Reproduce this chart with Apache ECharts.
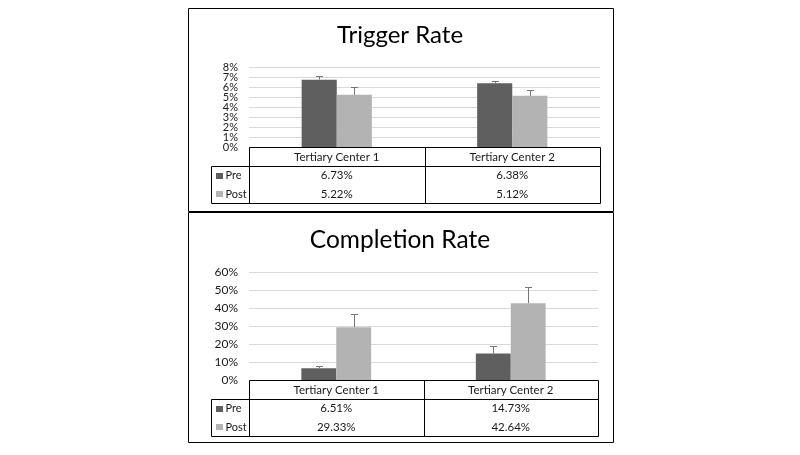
<!DOCTYPE html>
<html>
<head>
<meta charset="utf-8">
<script src="https://cdn.jsdelivr.net/npm/echarts@6/dist/echarts.min.js"></script>
<style>
html,body{margin:0;padding:0;background:#fff;}
#c{width:800px;height:455px;}
</style>
</head>
<body>
<div id="c"></div>
<script>
// ---- data ----
const categories = ['Tertiary Center 1', 'Tertiary Center 2'];
const seriesNames = ['Pre', 'Post'];
const titles = ['Trigger Rate', 'Completion Rate'];

const triggerPre = [6.73, 6.38];
const triggerPost = [5.22, 5.12];
const triggerPreErr = [0.41, 0.26];
const triggerPostErr = [0.82, 0.62];

const completionPre = [6.51, 14.73];
const completionPost = [29.33, 42.64];
const completionPreErr = [1.4, 4.3];
const completionPostErr = [7.4, 9.1];

const triggerAxis = { min: 0, max: 8, interval: 1 };
const completionAxis = { min: 0, max: 60, interval: 10 };

// ---- styles ----
const FONT = 'Lato, "Open Sans", sans-serif';
const PRE_COLOR = '#5f5f5f';
const POST_COLOR = '#b3b3b3';
const ERR_COLOR = '#767676';
const TEXT_COLOR = '#1a1a1a';
const BAR_FRAC = 0.2;        // bar width as fraction of category band
const HEADER_H = 19;
const ROW_H = 18.5;
const LEG_W = 38.5;

const chart = echarts.init(document.getElementById('c'), null, { renderer: 'canvas' });

function px(v) { return Math.round(v) + 0.5; }

function errorSeries(gridIdx, values, errs, sign) {
  return {
    type: 'custom',
    xAxisIndex: gridIdx, yAxisIndex: gridIdx,
    z: 5, clip: false, silent: true,
    data: categories.map((c, i) => [i, values[i], errs[i]]),
    encode: { x: 0, y: 1 },
    renderItem: function (params, api) {
      const i = api.value(0), v = api.value(1), e = api.value(2);
      const bw = api.size([1, 0])[0];
      const off = sign * bw * BAR_FRAC / 2;
      const p0 = api.coord([i, v]);
      const p1 = api.coord([i, v + e]);
      const x = px(p0[0] + off);
      const yTop = px(p1[1]);
      return {
        type: 'group',
        children: [
          { type: 'line', shape: { x1: x, y1: p0[1], x2: x, y2: yTop }, style: { stroke: ERR_COLOR, lineWidth: 1 } },
          { type: 'line', shape: { x1: x - 3.5, y1: yTop, x2: x + 3.5, y2: yTop }, style: { stroke: ERR_COLOR, lineWidth: 1 } }
        ]
      };
    }
  };
}

function tableSeries(gridIdx, pre, post, fontSize) {
  return {
    type: 'custom',
    xAxisIndex: gridIdx, yAxisIndex: gridIdx,
    z: 10, clip: false, silent: true,
    data: categories.map((c, i) => [i, 0]),
    encode: { x: 0, y: 1 },
    renderItem: function (params, api) {
      const i = params.dataIndex;
      const bw = api.size([1, 0])[0];
      const p = api.coord([api.value(0), 0]);
      const cx = p[0];
      const x0 = px(cx - bw / 2), x1 = px(cx + bw / 2);
      const y0 = px(p[1]);
      const yH = px(p[1] + HEADER_H);
      const yB = px(p[1] + HEADER_H + 2 * ROW_H);
      const stroke = { stroke: '#000', lineWidth: 1, fill: null };
      const tstyle = (txt, x, y, align, fs) => ({
        type: 'text',
        style: { text: txt, x: x, y: y, align: align || 'center', verticalAlign: 'middle',
                 fill: TEXT_COLOR, font: (fs || fontSize) + 'px ' + FONT }
      });
      const children = [
        { type: 'rect', shape: { x: x0, y: y0, width: x1 - x0, height: yH - y0 }, style: stroke },
        { type: 'rect', shape: { x: x0, y: yH, width: x1 - x0, height: yB - yH }, style: stroke },
        tstyle(categories[i], cx, (y0 + yH) / 2),
        tstyle(pre[i].toFixed(2) + '%', cx, yH + ROW_H / 2),
        tstyle(post[i].toFixed(2) + '%', cx, yH + ROW_H * 1.5)
      ];
      if (i === 0) {
        const lx = px(cx - bw / 2 - LEG_W);
        children.push({ type: 'rect', shape: { x: lx, y: yH, width: x0 - lx, height: yB - yH }, style: stroke });
        const names = seriesNames;
        const cols = [PRE_COLOR, POST_COLOR];
        for (let k = 0; k < 2; k++) {
          const ym = yH + ROW_H * (k + 0.5);
          children.push({ type: 'rect', shape: { x: lx + 4.5, y: Math.round(ym - 3), width: 7, height: 6 }, style: { fill: cols[k] } });
          children.push(tstyle(names[k], lx + 14, ym, 'left', 11));
        }
      }
      return { type: 'group', children: children };
    }
  };
}

function yAxis(gridIdx, ax, fontSize, opts) {
  opts = opts || {};
  return {
    type: 'value', gridIndex: gridIdx, position: 'left', offset: 0,
    min: ax.min, max: ax.max, interval: opts.interval || ax.interval,
    axisLine: { show: false }, axisTick: { show: false },
    axisLabel: { formatter: '{value}%', color: TEXT_COLOR, fontSize: fontSize, fontFamily: FONT, margin: 11,
                 showMinLabel: opts.showEnds, showMaxLabel: opts.showEnds },
    splitLine: { show: opts.split !== false, lineStyle: { color: '#d9d9d9', width: 1 } }
  };
}

function xAxis(gridIdx) {
  return {
    type: 'category', gridIndex: gridIdx, data: categories,
    axisLine: { show: false }, axisTick: { show: false }, axisLabel: { show: false },
    splitLine: { show: false }
  };
}

function barSeries(gridIdx, name, values, color) {
  return {
    type: 'bar', name: name, xAxisIndex: gridIdx, yAxisIndex: gridIdx,
    data: values, barWidth: (BAR_FRAC * 100) + '%', barGap: '0%',
    itemStyle: { color: color }, silent: true, z: 2
  };
}

const option = {
  animation: false,
  backgroundColor: '#fff',
  title: [
    { text: titles[0], left: 'center', top: 18, textStyle: { fontFamily: FONT, fontSize: 24, fontWeight: 'normal', color: '#000' } },
    { text: titles[1], left: 'center', top: 223, textStyle: { fontFamily: FONT, fontSize: 24.5, fontWeight: 'normal', color: '#000' } }
  ],
  grid: [
    { left: 249, top: 67, width: 351, height: 80 },
    { left: 249, top: 272, width: 349, height: 108 }
  ],
  xAxis: [xAxis(0), xAxis(1)],
  yAxis: [
    // top panel: inner labels 1%..7% (end labels drawn by axis index 2 so they are not auto-hidden)
    yAxis(0, triggerAxis, 11, { showEnds: false }),
    yAxis(1, completionAxis, 12, { showEnds: true }),
    yAxis(0, triggerAxis, 11, { showEnds: true, interval: triggerAxis.max - triggerAxis.min, split: false })
  ],
  graphic: [
    { type: 'rect', shape: { x: 188.5, y: 8.5, width: 425, height: 203 }, style: { fill: null, stroke: '#000', lineWidth: 1 }, silent: true, z: 100 },
    { type: 'rect', shape: { x: 188.5, y: 212.5, width: 425, height: 230 }, style: { fill: null, stroke: '#000', lineWidth: 1 }, silent: true, z: 100 }
  ],
  series: [
    barSeries(0, seriesNames[0], triggerPre, PRE_COLOR),
    barSeries(0, seriesNames[1], triggerPost, POST_COLOR),
    errorSeries(0, triggerPre, triggerPreErr, -1),
    errorSeries(0, triggerPost, triggerPostErr, 1),
    tableSeries(0, triggerPre, triggerPost, 11.5),
    barSeries(1, seriesNames[0], completionPre, PRE_COLOR),
    barSeries(1, seriesNames[1], completionPost, POST_COLOR),
    errorSeries(1, completionPre, completionPreErr, -1),
    errorSeries(1, completionPost, completionPostErr, 1),
    tableSeries(1, completionPre, completionPost, 11.5)
  ]
};
chart.setOption(option);
</script>
</body>
</html>
